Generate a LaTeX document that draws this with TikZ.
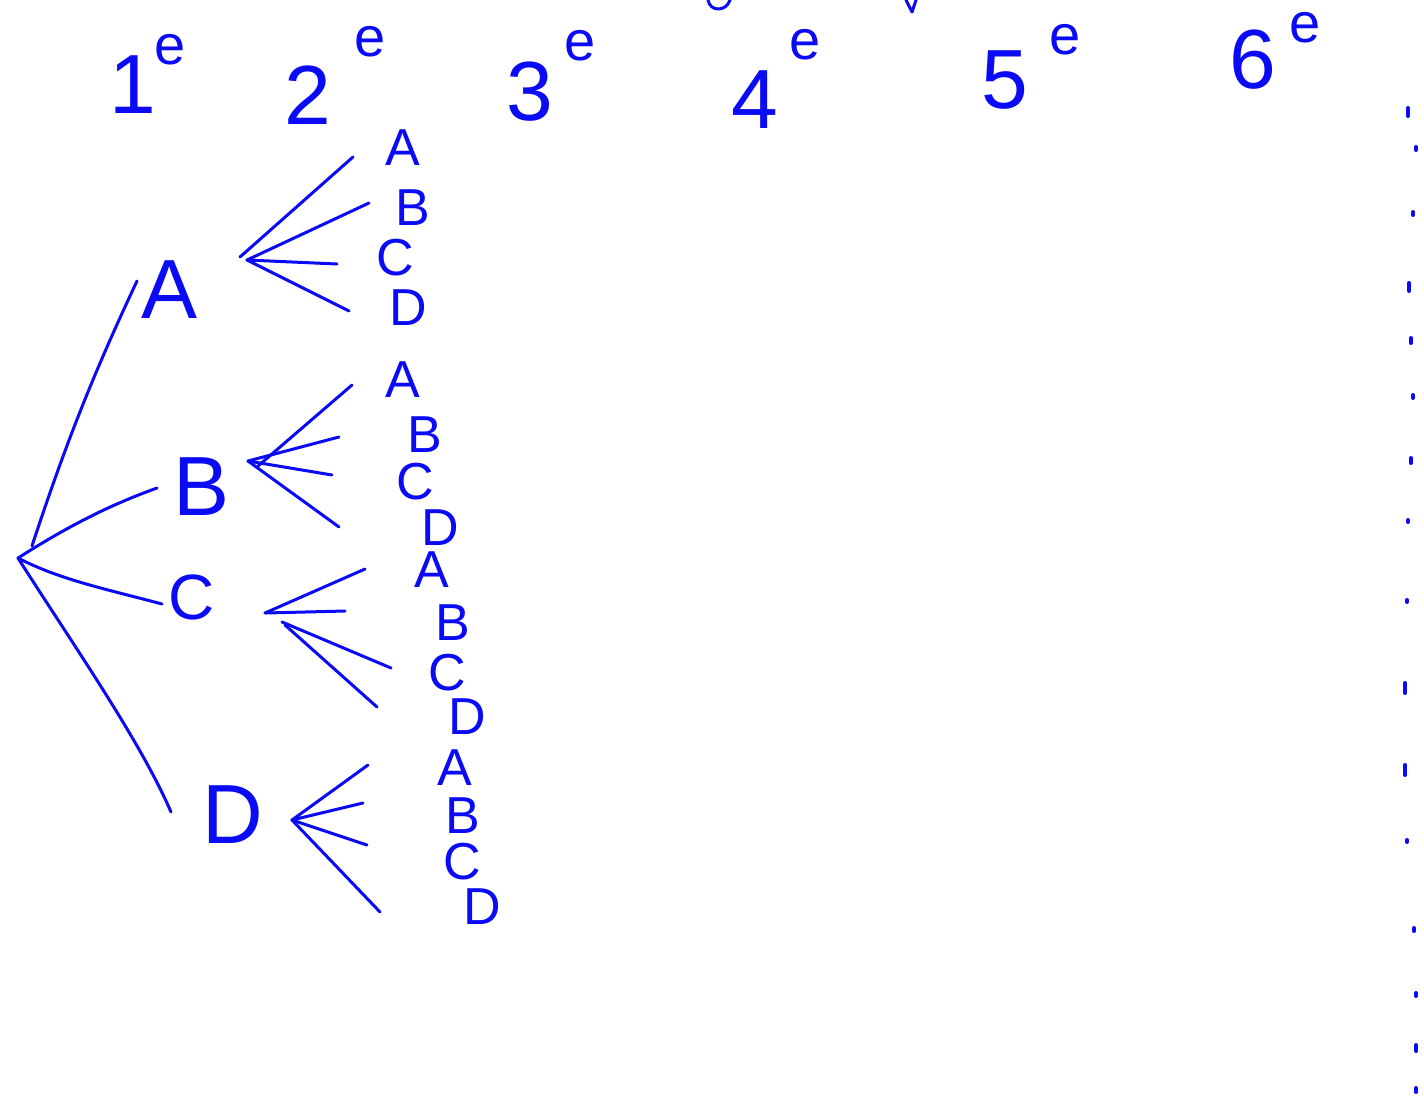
\documentclass[tikz,border=0pt]{standalone}
\usepackage{fontspec}
\setmainfont{Liberation Sans}
\definecolor{ink}{RGB}{10,10,245}
\begin{document}
\begin{tikzpicture}[x=0.5pt,y=-0.5pt,
  every node/.style={text=ink, inner sep=0pt},
  big/.style={font=\fontsize{42}{42}\selectfont},
  mid/.style={font=\fontsize{32}{32}\selectfont},
  leaf/.style={font=\fontsize{26}{26}\selectfont},
  sup/.style={font=\fontsize{28}{28}\selectfont},
  branch/.style={draw=ink, line width=1.5pt, line cap=round, line join=round},
  dotmark/.style={draw=ink, line width=2pt, line cap=round}]
\useasboundingbox (0,0) rectangle (1424,1115);
\fill[white] (0,0) rectangle (1424,1115);

% column headers
\node[big] (h1) at (133,85) {1};  \node[sup] (e1) at (170,50) {e};
\node[big] (h2) at (308,95) {2};  \node[sup] (e2) at (370,42) {e};
\node[big] (h3) at (530,92) {3};  \node[sup] (e3) at (580,46) {e};
\node[big] (h4) at (755,100) {4}; \node[sup] (e4) at (805,45) {e};
\node[big] (h5) at (1005,80) {5}; \node[sup] (e5) at (1065,40) {e};
\node[big] (h6) at (1253,60) {6}; \node[sup] (e6) at (1305,28) {e};

% cut-off strokes at top
\draw[branch] (708,0) .. controls (710,12) and (726,12) .. (730,0);
\draw[branch] (906,0) -- (912,12) -- (916,0);

% root and first level
\coordinate (root) at (18,558);
\node[big] (A) at (170,290) {A};
\node[big] (B) at (202,487) {B};
\node[mid] (C) at (192,597) {C};
\node[big] (D) at (233,815) {D};
\coordinate (tA) at (137,281);
\coordinate (tB) at (157,488);
\coordinate (tC) at (162,604);
\coordinate (tD) at (171,812);
\coordinate (rA) at (32,546);
\draw[branch] (rA) .. controls (70,430) and (100,360) .. (tA);
\draw[branch] (root) .. controls (70,525) and (110,505) .. (tB);
\draw[branch] (root) .. controls (60,580) and (110,590) .. (tC);
\draw[branch] (root) .. controls (70,640) and (140,740) .. (tD);

% fan from A
\coordinate (fA) at (247,260);
\node[leaf] (aA) at (403,148) {A};
\node[leaf] (aB) at (413,208) {B};
\node[leaf] (aC) at (395,258) {C};
\node[leaf] (aD) at (408,308) {D};
\coordinate (taA) at (353,157);
\coordinate (taB) at (369,203);
\coordinate (taC) at (337,264);
\coordinate (taD) at (349,311);
\draw[branch] (240,257) -- (taA);
\draw[branch] (fA) -- (taB);
\draw[branch] (fA) -- (taC);
\draw[branch] (fA) -- (taD);

% fan from B
\coordinate (fB) at (248,461);
\node[leaf] (bA) at (403,380) {A};
\node[leaf] (bB) at (425,435) {B};
\node[leaf] (bC) at (415,482) {C};
\node[leaf] (bD) at (440,528) {D};
\coordinate (tbA) at (352,385);
\coordinate (tbB) at (339,437);
\coordinate (tbC) at (332,475);
\coordinate (tbD) at (339,527);
\draw[branch] (258,466) -- (tbA);
\draw[branch] (fB) -- (tbB);
\draw[branch] (fB) -- (tbC);
\draw[branch] (fB) -- (tbD);

% fan from C
\coordinate (fC) at (265,613);
\node[leaf] (cA) at (432,570) {A};
\node[leaf] (cB) at (453,623) {B};
\node[leaf] (cC) at (447,673) {C};
\node[leaf] (cD) at (467,717) {D};
\coordinate (tcA) at (365,569);
\coordinate (tcB) at (345,611);
\coordinate (tcC) at (391,668);
\coordinate (tcD) at (377,707);
\draw[branch] (fC) -- (tcA);
\draw[branch] (fC) -- (tcB);
\draw[branch] (282,622) -- (tcC);
\draw[branch] (285,625) -- (tcD);

% fan from D
\coordinate (fD) at (292,820);
\node[leaf] (dA) at (455,768) {A};
\node[leaf] (dB) at (463,816) {B};
\node[leaf] (dC) at (462,862) {C};
\node[leaf] (dD) at (482,907) {D};
\coordinate (tdA) at (368,765);
\coordinate (tdB) at (363,803);
\coordinate (tdC) at (367,845);
\coordinate (tdD) at (380,912);
\draw[branch] (fD) -- (tdA);
\draw[branch] (fD) -- (tdB);
\draw[branch] (fD) -- (tdC);
\draw[branch] (fD) -- (tdD);

% dotted line at the right
\foreach \x/\y/\l in {1408/108/8, 1416/147/3, 1413/212/3, 1409/283/8, 1411/338/5,
  1413/395/3, 1411/458/5, 1408/520/2, 1407/600/2, 1405/683/10, 1405/765/10,
  1407/840/2, 1414/928/3, 1416/993/3, 1416/1045/6, 1416/1088/4}
  \draw[dotmark] (\x,\y) -- ++(0,\l);
\end{tikzpicture}
\end{document}
